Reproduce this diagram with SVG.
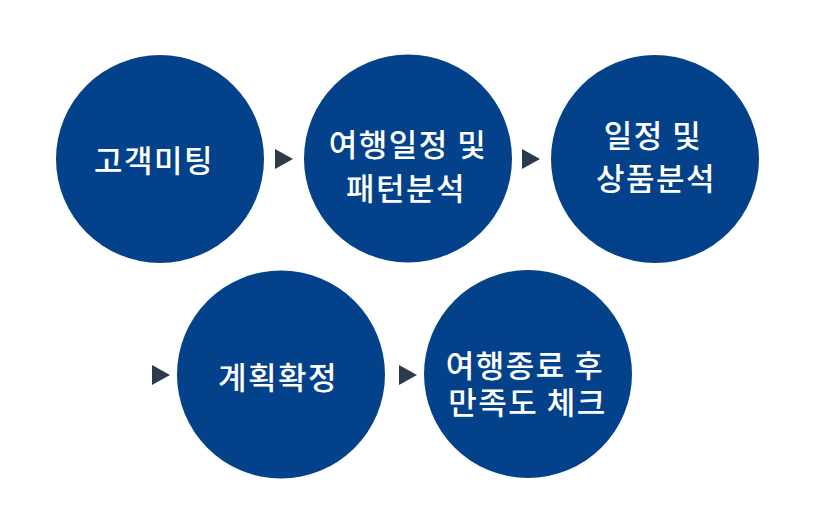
<svg xmlns="http://www.w3.org/2000/svg" width="816" height="520" viewBox="0 0 816 520">
<style>
.c{fill:#03428a}
.t{fill:#ffffff;font-family:"Noto Sans CJK KR","Noto Sans",sans-serif;font-size:31px;font-weight:500;letter-spacing:1.5px;text-anchor:middle;dominant-baseline:central}
.a{fill:#2c3a4b}
</style>
<rect width="816" height="520" fill="#ffffff"/>
<g id="connectors">
<polygon class="a" points="275,149 293,159 275,169"/>
<polygon class="a" points="522,149 540,159 522,169"/>
<polygon class="a" points="152,365 170,375 152,385"/>
<polygon class="a" points="399,365 417,375 399,385"/>
</g>
<g id="node1">
<circle class="c" cx="160" cy="159" r="104"/>
<text class="t" x="154" y="158">고객미팅</text>
</g>
<g id="node2">
<circle class="c" cx="408" cy="158.5" r="104"/>
<text class="t" x="408" y="142.5">여행일정 및</text>
<text class="t" x="406" y="186">패턴분석</text>
</g>
<g id="node3">
<circle class="c" cx="655" cy="159" r="104"/>
<text class="t" x="653" y="133.5">일정 및</text>
<text class="t" x="656" y="176">상품분석</text>
</g>
<g id="node4">
<circle class="c" cx="281" cy="374.5" r="104"/>
<text class="t" x="278" y="375">계획확정</text>
</g>
<g id="node5">
<circle class="c" cx="528" cy="374" r="104"/>
<text class="t" x="525" y="363.5">여행종료 후</text>
<text class="t" x="527.5" y="400">만족도 체크</text>
</g>
</svg>
